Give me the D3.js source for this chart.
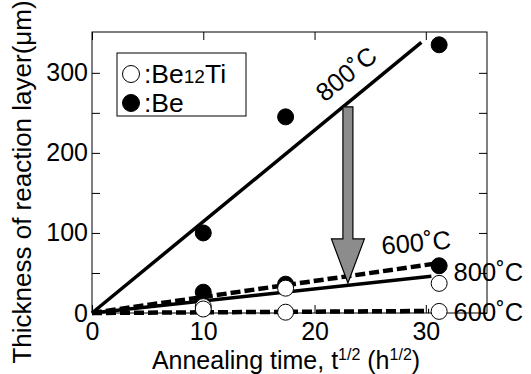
<!DOCTYPE html>
<html>
<head>
<meta charset="utf-8">
<script src="https://cdn.jsdelivr.net/npm/d3@7"></script>
<style>
  body { margin: 0; background: #fff; }
  svg { display: block; }
  text { font-family: "Liberation Sans", Arial, sans-serif; fill: #000; }
  .axis path { display: none; }
  .axis line { stroke: #000; stroke-width: 1; }
</style>
</head>
<body>
<script>
var margin = {top: 32, right: 44, bottom: 61, left: 92},
    width = 531 - margin.left - margin.right,
    height = 374 - margin.top - margin.bottom;

// sqrt of annealing time (h^1/2)
var times = [10, 17.4, 31.2];

// Be layer (filled markers)
var be_800 = [100, 245, 335];
var be_600 = [26, 36, 59];
// Be12Ti layer (open markers)
var ti_800 = [8, 31, 37];
var ti_600 = [5, 1, 2];

// fitted lines through the origin: [end t, end thickness]
var fit_be_800 = [29.6, 338];
var fit_be_600 = [31, 62];
var fit_ti_800 = [30.5, 46];
var fit_ti_600 = [30.3, 2.5];

var x_ticks = [0, 10, 20, 30];
var y_ticks = [0, 50, 100, 150, 200, 250, 300];
var y_labels = [0, 100, 200, 300];

var x_scale = d3.scaleLinear().domain([0, 35.5]).range([0, width]),
    y_scale = d3.scaleLinear().domain([0, 351]).range([height, 0]);

var svg = d3.select("body").append("svg")
    .attr("width", width + margin.left + margin.right)
    .attr("height", height + margin.top + margin.bottom)
  .append("g")
    .attr("transform", "translate(" + margin.left + "," + margin.top + ")");

// axes, ticks pointing inward on all four sides
svg.append("g")
    .attr("class", "axis")
    .call(d3.axisLeft(y_scale).tickValues(y_ticks).tickSize(-8).tickPadding(4)
      .tickFormat(function(d) { return y_labels.indexOf(d) >= 0 ? d : ""; }))
    .selectAll("text").style("font-size", "25px");

svg.append("g")
    .attr("class", "axis")
    .attr("transform", "translate(" + width + ",0)")
    .call(d3.axisRight(y_scale).tickValues(y_ticks).tickSize(-8).tickFormat(""));

svg.append("g")
    .attr("class", "axis")
    .attr("transform", "translate(0," + height + ")")
    .call(d3.axisBottom(x_scale).tickValues(x_ticks).tickSize(-8).tickPadding(9))
    .selectAll("text").style("font-size", "25px");

svg.append("g")
    .attr("class", "axis")
    .call(d3.axisTop(x_scale).tickValues(x_ticks).tickSize(-8).tickFormat(""));

svg.append("rect")
    .attr("width", width)
    .attr("height", height)
    .style("fill", "none")
    .style("stroke", "#000")
    .style("stroke-width", 1);

// axis titles
var x_label = svg.append("text")
    .attr("x", 194)
    .attr("y", height + 56)
    .style("text-anchor", "middle")
    .style("font-size", "25px");
x_label.append("tspan").text("Annealing time, t");
x_label.append("tspan").attr("dy", -9).style("font-size", "16px").text("1/2");
x_label.append("tspan").attr("dy", 9).text(" (h");
x_label.append("tspan").attr("dy", -9).style("font-size", "16px").text("1/2");
x_label.append("tspan").attr("dy", 9).text(")");

svg.append("text")
    .attr("transform", "rotate(-90)")
    .attr("x", -150)
    .attr("y", -61)
    .style("text-anchor", "middle")
    .style("font-size", "26px")
    .text("Thickness of reaction layer(\u03bcm)");

// fitted lines
var fits = [
  {end: fit_be_800, dash: null, w: 3.5},
  {end: fit_be_600, dash: "10,4", w: 4.5},
  {end: fit_ti_800, dash: null, w: 3.5},
  {end: fit_ti_600, dash: "10,4", w: 4.5}
];
svg.selectAll(".fit")
    .data(fits)
  .enter().append("line")
    .attr("class", "fit")
    .attr("x1", x_scale(0))
    .attr("y1", y_scale(0))
    .attr("x2", function(d) { return x_scale(d.end[0]); })
    .attr("y2", function(d) { return y_scale(d.end[1]); })
    .style("stroke", "#000")
    .style("stroke-width", function(d) { return d.w; })
    .style("stroke-dasharray", function(d) { return d.dash; });

// markers: filled (Be) first, open (Be12Ti) on top
function dots(values, fill) {
  svg.selectAll(null)
      .data(values)
    .enter().append("circle")
      .attr("r", 8)
      .attr("cx", function(d, i) { return x_scale(times[i]); })
      .attr("cy", function(d) { return y_scale(d); })
      .style("fill", fill)
      .style("stroke", "#000")
      .style("stroke-width", 1);
}
dots(be_800, "#000");
dots(be_600, "#000");
dots(ti_800, "#fff");
dots(ti_600, "#fff");

// gray arrow from the 800C Be line down to the Be12Ti lines
var ax = x_scale(23.0),
    a_top = y_scale(257.5),
    a_head = y_scale(92.5),
    a_tip = y_scale(37.5);
svg.append("path")
    .attr("d", "M" + (ax - 5) + "," + a_top + "L" + (ax + 5) + "," + a_top +
      "L" + (ax + 5) + "," + a_head + "L" + (ax + 16.5) + "," + a_head +
      "L" + ax + "," + a_tip + "L" + (ax - 16.5) + "," + a_head +
      "L" + (ax - 5) + "," + a_head + "Z")
    .style("fill", "#8c8c8c")
    .style("stroke", "#000")
    .style("stroke-width", 1.2);

// temperature labels
function temp_label(t, v, angle, anchor, label) {
  svg.append("text")
      .attr("transform", "translate(" + x_scale(t) + "," + y_scale(v) + ") rotate(" + angle + ")")
      .style("text-anchor", anchor)
      .style("font-size", "25.5px")
      .text(label);
}
temp_label(23.35, 290, -39, "middle", "800\u02daC");
temp_label(29.2, 77, -5, "middle", "600\u02daC");
temp_label(32.5, 40, 0, "start", "800\u02daC");
temp_label(32.5, -10, 0, "start", "600\u02daC");

// legend
var legend = svg.append("g")
    .attr("transform", "translate(25,21)");
legend.append("rect")
    .attr("width", 129)
    .attr("height", 63)
    .style("fill", "#fff")
    .style("stroke", "#000")
    .style("stroke-width", 1);
var items = [{fill: "#fff", y: 21}, {fill: "#000", y: 50}];
legend.selectAll("circle")
    .data(items)
  .enter().append("circle")
    .attr("cx", 14)
    .attr("cy", function(d) { return d.y; })
    .attr("r", 8.5)
    .style("fill", function(d) { return d.fill; })
    .style("stroke", "#000");
var t1 = legend.append("text")
    .attr("x", 27).attr("y", 30)
    .style("font-size", "26.5px");
t1.append("tspan").text(":Be");
t1.append("tspan").style("font-size", "19px").text("12");
t1.append("tspan").text("Ti");
legend.append("text")
    .attr("x", 27).attr("y", 59)
    .style("font-size", "26.5px")
    .text(":Be");
</script>
</body>
</html>
